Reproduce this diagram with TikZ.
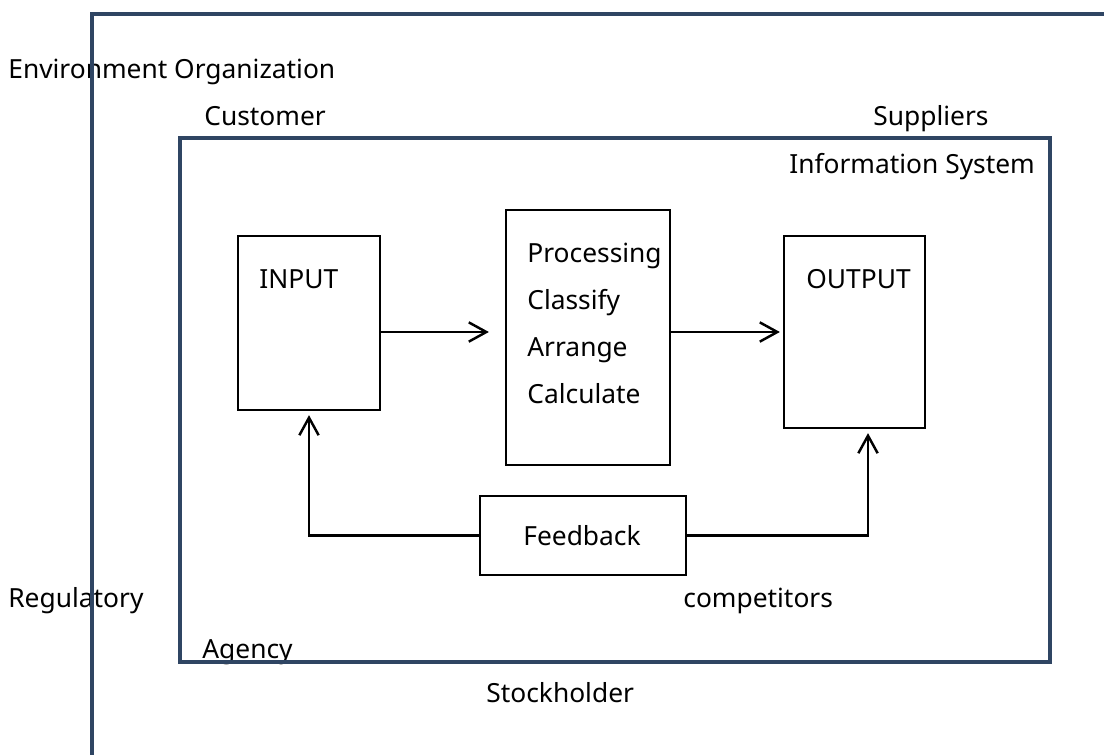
\documentclass[tikz,border=0pt]{standalone}
\usepackage{fontspec}
\setmainfont{Noto Sans}
\usetikzlibrary{arrows.meta}
\definecolor{framecol}{RGB}{47,69,99}

\begin{document}
\begin{tikzpicture}[x=0.02cm, y=-0.02cm,
  frame/.style={draw=framecol, line width=2pt},
  box/.style={draw=black, line width=1.3pt, inner sep=0pt},
  lbl/.style={anchor=base west, inner sep=0pt, font=\fontsize{15}{18}\selectfont},
  flow/.style={draw=black, line width=1.4pt, -{Straight Barb[length=10pt, width=11pt]}}]
\useasboundingbox (0,0) rectangle (1104,754);
\clip (0,0) rectangle (1104,754);
% --- organization and its surroundings ---
\node[lbl] (env)  at (8,78)    {Environment Organization};
\node[lbl] (cust) at (204,125) {Customer};
\node[lbl] (supp) at (873,125) {Suppliers};
\node[lbl] (reg)  at (8,607)   {Regulatory};
\node[lbl] (comp) at (683,607) {competitors};
\node[lbl] (agen) at (202,658) {Agency};
\node[lbl] (stck) at (486,702) {Stockholder};
\draw[frame] (92,770) -- (92,14) -- (1120,14);
% --- information system ---
\node[frame, minimum width=17.4cm, minimum height=10.48cm] (sys) at (615,400) {};
\node[lbl] (systxt) at (789,173) {Information System};
% --- input / processing / output ---
\node[box, minimum width=2.84cm, minimum height=3.48cm] (in)   at (309,323)   {};
\node[box, minimum width=3.28cm, minimum height=5.10cm] (proc) at (588,337.5) {};
\node[box, minimum width=2.82cm, minimum height=3.84cm] (out)  at (854.5,332) {};
\node[box, minimum width=4.12cm, minimum height=1.58cm] (fb)   at (583,535.5) {};
\node[lbl] (intxt)  at (259,288) {INPUT};
\node[lbl] (outtxt) at (806,288) {OUTPUT};
\node[lbl] (fbtxt)  at (523,545) {Feedback};
\node[lbl] (p1) at (527,262) {Processing};
\node[lbl] (p2) at (527,309) {Classify};
\node[lbl] (p3) at (527,356) {Arrange};
\node[lbl] (p4) at (527,403) {Calculate};
% --- flows ---
\draw[flow, shorten >=0.32cm] (in.east |- out.west) -- (proc.west |- out.west);
\draw[flow, shorten >=0.06cm] (proc.east |- out.west) -- (out.west);
\draw[flow, shorten >=0.08cm] (fb.west) -| (in.south);
\draw[flow, shorten >=0.08cm] (fb.east) -| ([xshift=0.27cm]out.south);
\end{tikzpicture}
\end{document}
